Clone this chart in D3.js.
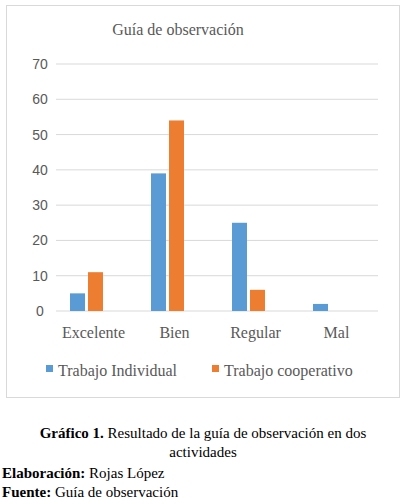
<!DOCTYPE html><html><head><meta charset="utf-8"><script src="https://cdn.jsdelivr.net/npm/d3@7"></script>
<style>body{margin:0;background:#fff}.sf{font-family:'Liberation Serif','Times New Roman','DejaVu Serif',serif}</style></head><body><svg id="c" width="408" height="504"></svg>
<script>
const categories=["Excelente","Bien","Regular","Mal"];
const series=["Trabajo Individual","Trabajo cooperativo"];
const individual=[5,39,25,2];
const cooperativo=[11,54,6,0];
const yTicks=[0,10,20,30,40,50,60,70];
const colors=["#5b9bd5","#ed7d31"];
const svg=d3.select("#c");
svg.append("rect").attr("x",6.5).attr("y",5.5).attr("width",393).attr("height",392).attr("fill","#fff").attr("stroke","#d9d9d9");
svg.append("text").attr("class","sf").attr("x",178).attr("y",35).attr("text-anchor","middle").attr("font-size",16).attr("fill","#595959").text("Guía de observación");
const y=d3.scaleLinear().domain([0,70]).range([311,64]);
const x=d3.scaleBand().domain(categories).range([46,370]);
const g=svg.append("g");
yTicks.forEach(t=>{g.append("line").attr("x1",56).attr("x2",378).attr("y1",y(t)).attr("y2",y(t)).attr("stroke","#d9d9d9");
g.append("text").attr("x",40).attr("y",y(t)+5).attr("text-anchor","middle").attr("font-family","Liberation Sans").attr("font-size",14).attr("fill","#595959").text(t);});
const bw=15,gap=3;
[individual,cooperativo].forEach((arr,si)=>{
g.selectAll(null).data(arr).enter().append("rect")
.attr("x",(d,i)=>x(categories[i])+x.bandwidth()/2-bw-gap/2+si*(bw+gap))
.attr("y",d=>y(d)).attr("width",bw).attr("height",d=>y(0)-y(d)).attr("fill",colors[si]);});
categories.forEach(c=>g.append("text").attr("class","sf").attr("x",x(c)+x.bandwidth()/2+7).attr("y",338).attr("text-anchor","middle").attr("font-size",16).attr("fill","#595959").text(c));
const lx=[46,212];
series.forEach((s,i)=>{svg.append("rect").attr("x",lx[i]).attr("y",365).attr("width",7).attr("height",7).attr("fill",colors[i]);
svg.append("text").attr("class","sf").attr("x",lx[i]+12).attr("y",376).attr("font-size",16).attr("fill","#595959").text(s);});
const cap=svg.append("g").attr("class","sf").attr("font-size",15).attr("fill","#000");
const t1=cap.append("text").attr("x",203).attr("y",438).attr("text-anchor","middle");
t1.append("tspan").attr("font-weight","bold").text("Gráfico 1.");t1.append("tspan").text(" Resultado de la guía de observación en dos");
cap.append("text").attr("x",203).attr("y",457).attr("text-anchor","middle").text("actividades");
const t3=cap.append("text").attr("x",2).attr("y",478);t3.append("tspan").attr("font-weight","bold").text("Elaboración:");t3.append("tspan").text(" Rojas López");
const t4=cap.append("text").attr("x",2).attr("y",497);t4.append("tspan").attr("font-weight","bold").text("Fuente:");t4.append("tspan").text(" Guía de observación");
</script></body></html>
